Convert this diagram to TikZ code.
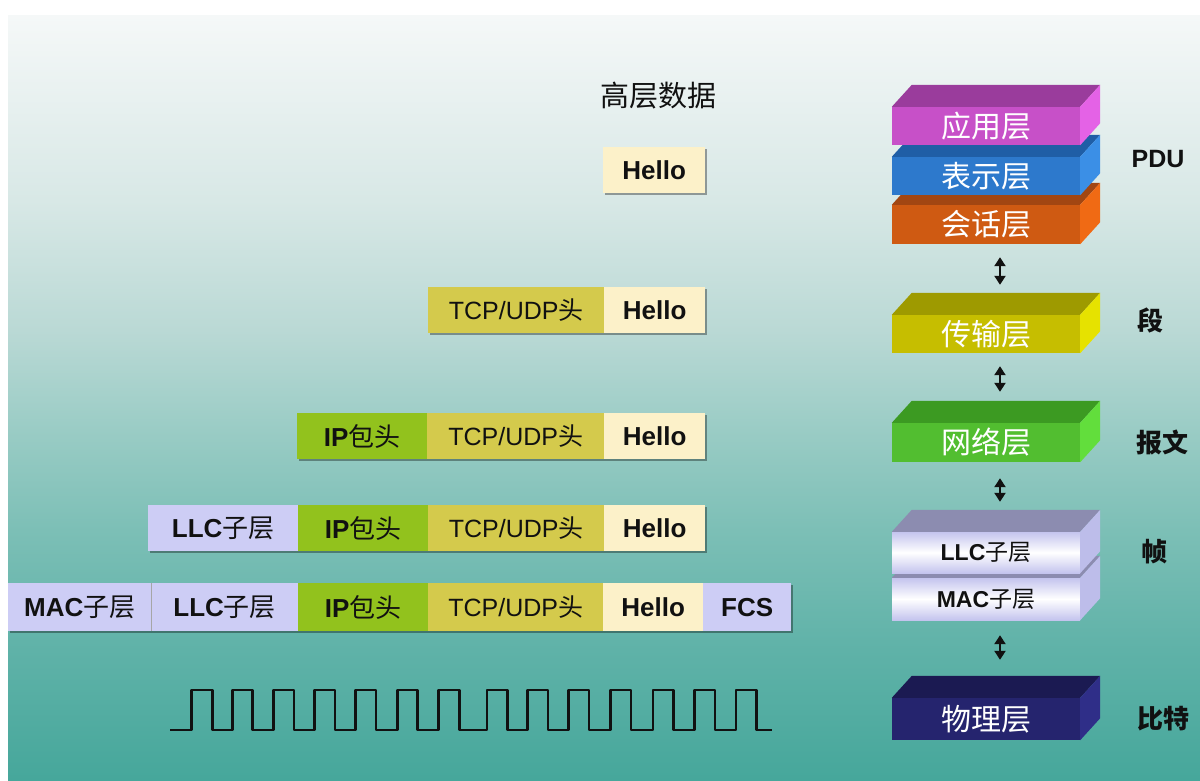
\documentclass[tikz,border=0pt]{standalone}
\usepackage{fontspec}
\setmainfont{Liberation Sans}
\newfontfamily\cjk{Noto Sans CJK SC}
\usetikzlibrary{arrows.meta,shadows}
\definecolor{bgA}{HTML}{46A79B}
\definecolor{bgB}{HTML}{5FB2A8}
\definecolor{bgC}{HTML}{7CBFB6}
\definecolor{bgD}{HTML}{9ACCC5}
\definecolor{bgE}{HTML}{BAD9D5}
\definecolor{bgF}{HTML}{D8E8E6}
\definecolor{bgG}{HTML}{F5F8F8}
\pgfdeclareverticalshading{bgshade}{100bp}{color(0bp)=(bgA); color(25bp)=(bgA); color(33.5bp)=(bgB); color(41.3bp)=(bgC); color(47.9bp)=(bgD); color(54.4bp)=(bgE); color(62.9bp)=(bgF); color(75bp)=(bgG); color(100bp)=(bgG)}
\definecolor{helloc}{HTML}{FCF1C9}
\definecolor{tcpc}{HTML}{D4CA4C}
\definecolor{ipc}{HTML}{92C21D}
\definecolor{lavc}{HTML}{CDCDF5}
\definecolor{txt}{HTML}{111111}
\definecolor{appF}{HTML}{C750C8}\definecolor{appT}{HTML}{9A3C9C}\definecolor{appS}{HTML}{E462E6}
\definecolor{preF}{HTML}{2D79CC}\definecolor{preT}{HTML}{1F5EA6}\definecolor{preS}{HTML}{3B8FE6}
\definecolor{sesF}{HTML}{CF5A12}\definecolor{sesT}{HTML}{A24612}\definecolor{sesS}{HTML}{F06A14}
\definecolor{traF}{HTML}{C6BE00}\definecolor{traT}{HTML}{9E9A00}\definecolor{traS}{HTML}{E6E200}
\definecolor{netF}{HTML}{52BE30}\definecolor{netT}{HTML}{3C9A22}\definecolor{netS}{HTML}{62DE3C}
\definecolor{dlT}{HTML}{8C8CB0}\definecolor{dlS}{HTML}{BDBDEA}\definecolor{dlF}{HTML}{C4C4EE}
\definecolor{phyF}{HTML}{25246E}\definecolor{phyT}{HTML}{1B1A52}\definecolor{phyS}{HTML}{2F2E88}
\newcommand\prismfaces[3]{%
  \fill[#2] (#1.north west) -- ([shift={(20,-22)}]#1.north west) -- ([shift={(20,-22)}]#1.north east) -- (#1.north east) -- cycle;
  \fill[#3] (#1.north east) -- ([shift={(20,-22)}]#1.north east) -- ([shift={(20,-22)}]#1.south east) -- (#1.south east) -- cycle;
}
\begin{document}
\begin{tikzpicture}[x=1pt,y=-1pt,
  cell/.style={minimum height=46pt, inner sep=0pt, anchor=north west, text=txt,
    drop shadow={shadow xshift=2pt, shadow yshift=-2pt, opacity=0.35, fill=black}},
  cellfont/.style={font=\fontsize{26}{30}\selectfont},
  hello/.style={cell, cellfont, fill=helloc, minimum width=#1},
  tcp/.style={cell, font=\fontsize{25}{30}\selectfont, fill=tcpc, minimum width=#1},
  ip/.style={cell, cellfont, fill=ipc, minimum width=#1},
  lav/.style={cell, cellfont, fill=lavc, minimum width=#1},
  front/.style={minimum width=188pt, inner sep=0pt, text=white, font=\cjk\fontsize{30}{34}\selectfont},
  dlfront/.style={front, text=txt, font=\fontsize{23}{28}\selectfont, top color=dlF, bottom color=dlF, middle color=white},
  side/.style={text=txt, font=\cjk\bfseries\fontsize{26}{30}\selectfont},
  dbl/.style={line width=2.5pt, txt, {Triangle[width=11pt,length=9pt]}-{Triangle[width=11pt,length=9pt]}},
  wave/.style={line width=2.6pt, txt, line join=round}
]
\useasboundingbox (0,0) rectangle (1200,780);
\fill[white] (0,0) rectangle (1200,780);
\shade[shading=bgshade] (8,15) rectangle (1200,780);

% title
\node[text=txt, font=\cjk\fontsize{29}{34}\selectfont] (title) at (658,96) {高层数据};

% row 1
\node[hello=102pt] (h1) at (603,147) {\bfseries Hello};
% row 2
\node[tcp=176pt] (t2) at (428,287) {TCP/UDP{\cjk 头}};
\node[hello=101pt] (h2) at (604,287) {\bfseries Hello};
% row 3
\node[ip=130pt] (i3) at (297,413) {\bfseries IP{\cjk\mdseries 包头}};
\node[tcp=177pt] (t3) at (427,413) {TCP/UDP{\cjk 头}};
\node[hello=101pt] (h3) at (604,413) {\bfseries Hello};
% row 4
\node[lav=150pt] (l4) at (148,505) {\bfseries LLC{\cjk\mdseries 子层}};
\node[ip=130pt] (i4) at (298,505) {\bfseries IP{\cjk\mdseries 包头}};
\node[tcp=176pt] (t4) at (428,505) {TCP/UDP{\cjk 头}};
\node[hello=101pt] (h4) at (604,505) {\bfseries Hello};
% row 5
\node[lav=143pt, minimum height=48pt] (m5) at (8,583) {\bfseries MAC{\cjk\mdseries 子层}};
\node[lav=147pt, minimum height=48pt] (l5) at (151,583) {\bfseries LLC{\cjk\mdseries 子层}};
\draw[black!35, line width=1pt] (l5.north west) -- (l5.south west);
\node[ip=130pt, minimum height=48pt] (i5) at (298,583) {\bfseries IP{\cjk\mdseries 包头}};
\node[tcp=175pt, minimum height=48pt] (t5) at (428,583) {TCP/UDP{\cjk 头}};
\node[hello=100pt, minimum height=48pt] (h5) at (603,583) {\bfseries Hello};
\node[lav=88pt, minimum height=48pt] (f5) at (703,583) {\bfseries FCS};

% square wave
\draw[wave] (170,730) foreach \r in {191.7,232.2,273.3,314.6,355.6,397.2,438.7,486.9,527.6,568.3,610.6,652.9,694.4,735.9} { -- (\r,730) -- (\r,690) -- (\r+20.5,690) -- (\r+20.5,730) } -- (772,730);

% layer prisms (bottom first so upper ones overlap)
\node[front, fill=sesF, minimum height=39pt] (ses) at (986,224.5) {会话层};
\prismfaces{ses}{sesT}{sesS}
\node[front, fill=preF, minimum height=38pt] (pre) at (986,176) {表示层};
\prismfaces{pre}{preT}{preS}
\node[front, fill=appF, minimum height=38pt] (app) at (986,126) {应用层};
\prismfaces{app}{appT}{appS}

\node[front, fill=traF, minimum height=38pt] (tra) at (986,334) {传输层};
\prismfaces{tra}{traT}{traS}

\node[front, fill=netF, minimum height=39pt] (net) at (986,442.5) {网络层};
\prismfaces{net}{netT}{netS}

\node[dlfront, minimum height=42pt] (mac) at (986,599) {\bfseries MAC{\cjk\mdseries 子层}};
\prismfaces{mac}{dlT}{dlS}
\node[dlfront, minimum height=41pt] (llc) at (986,552.5) {\bfseries LLC{\cjk\mdseries 子层}};
\prismfaces{llc}{dlT}{dlS}

\node[front, fill=phyF, minimum height=42pt] (phy) at (986,719) {物理层};
\prismfaces{phy}{phyT}{phyS}

% arrows
\draw[dbl, shorten <=13pt, shorten >=30pt] ([xshift=14pt]ses.south) -- ([xshift=14pt]tra.north);
\draw[dbl, shorten <=13pt, shorten >=31pt] ([xshift=14pt]tra.south) -- ([xshift=14pt]net.north);
\draw[dbl, shorten <=16pt, shorten >=30pt] ([xshift=14pt]net.south) -- ([xshift=14pt]llc.north);
\draw[dbl, shorten <=15pt, shorten >=38pt] ([xshift=14pt]mac.south) -- ([xshift=14pt]phy.north);

% PDU labels
\node[text=txt, font=\bfseries\fontsize{25}{30}\selectfont] (pdu) at (1158,159) {PDU};
\node[side] (seg) at (1150,320) {段};
\node[side] (pkt) at (1162,443) {报文};
\node[side] (frm) at (1154,552) {帧};
\node[side] (bit) at (1163,719) {比特};
\end{tikzpicture}
\end{document}
